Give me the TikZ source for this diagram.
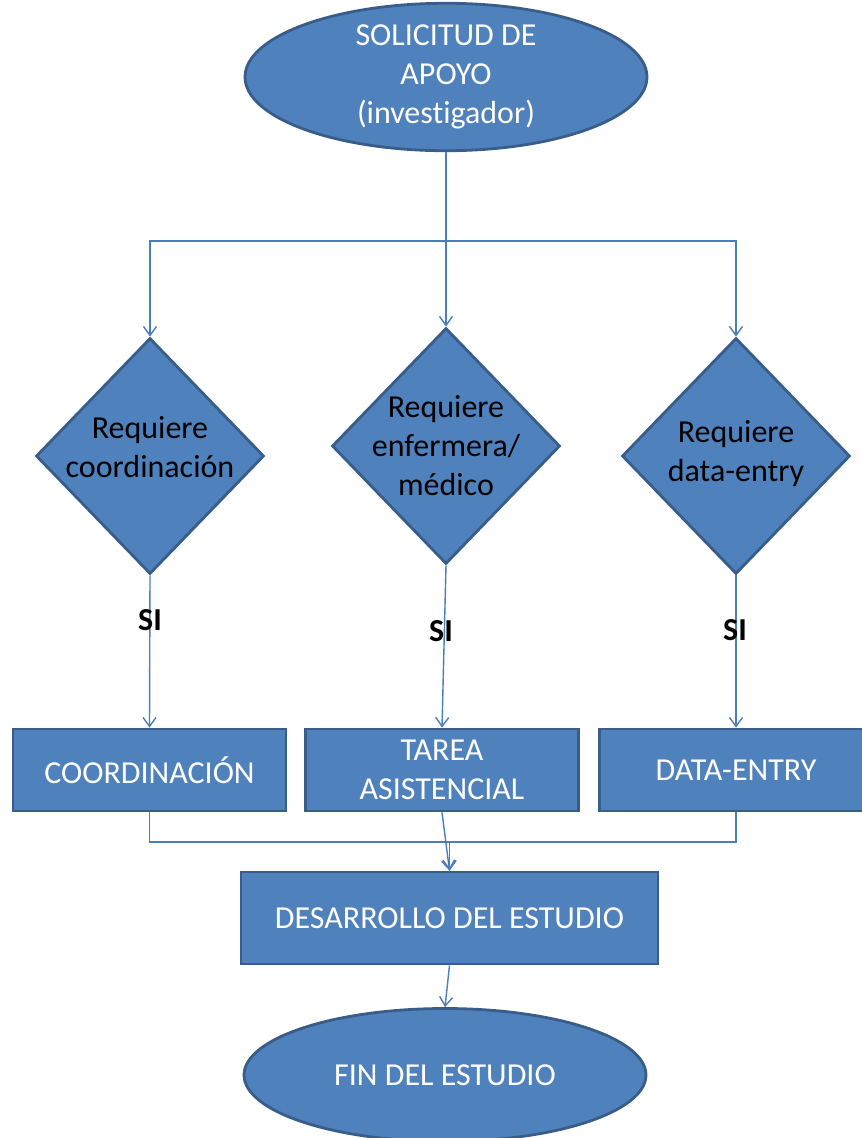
\documentclass[tikz,border=0pt]{standalone}
\usepackage{fontspec}
\setmainfont{Carlito}[RawFeature={-liga;-clig;-calt;-dlig}]
\usepackage{tikz}
\usepackage{xcolor}
\usetikzlibrary{calc,shapes.geometric,arrows.meta}

\definecolor{fillblue}{HTML}{4F81BD}
\definecolor{edgeblue}{HTML}{385D8A}
\definecolor{lineblue}{HTML}{4A7EBB}

\begin{document}
\begin{tikzpicture}[x=1pt,y=-1pt]
        \tikzstyle{every node}=[font=\fontsize{32}{39}\selectfont, align=center, inner sep=0pt]
        \tikzstyle{oval}=[ellipse, draw=edgeblue, line width=2.8pt, fill=fillblue, text=white, minimum width=402pt, minimum height=133pt]
        \tikzstyle{decision}=[diamond, draw=edgeblue, line width=2.8pt, fill=fillblue, minimum width=228pt, minimum height=236pt]
        \tikzstyle{task}=[rectangle, draw=edgeblue, line width=2.8pt, fill=fillblue, text=white, minimum width=273pt, minimum height=82pt]
        \tikzstyle{dtext}=[text=black]
        \tikzstyle{si}=[text=black, font=\fontsize{32}{39}\selectfont\bfseries]
        \tikzstyle{conn}=[draw=lineblue, line width=1.4pt, -{Straight Barb[length=9pt,width=13pt,line width=1.4pt]}]

        \useasboundingbox (0,0) rectangle (862,1138);
        \clip (0,0) rectangle (862,1138);

            \node[oval] (REQ) at (446,77) {SOLICITUD DE\\APOYO\\(investigador)};

            \node[decision] (D2) at ($(REQ)+(0,369)$) {};
            \node[decision] (D1) at ($(D2)+(-296,10)$) {};
            \node[decision] (D3) at ($(D2)+(290,10)$) {};
            \node[dtext] (T1) at ($(D1)+(0,-9)$) {Requiere\\coordinación};
            \node[dtext] (T2) at ($(D2)+(0,0)$) {Requiere\\enfermera/\\médico};
            \node[dtext] (T3) at ($(D3)+(0,-2)$) {Requiere\\data-entry};

            \node[task] (B1) at (149.5,770) {COORDINACIÓN};
            \node[task] (B2) at (442,770) {TAREA\\ASISTENCIAL};
            \node[task] (B3) at (736,770) {DATA-ENTRY};

            \node[task, minimum width=417pt, minimum height=92pt] (DEV) at (449.5,918) {DESARROLLO DEL ESTUDIO};
            \node[oval] (FIN) at (445,1075) {FIN DEL ESTUDIO};

            \coordinate (SPLIT) at (446,241);
            \coordinate (JOIN) at (449.5,842);

            \draw[conn] (REQ.south) -- (D2.north);
            \draw[conn] (SPLIT) -| (D1.north);
            \draw[conn] (SPLIT) -| (D3.north);

            \draw[conn] (D1.south) -- (B1.north);
            \draw[conn] (D2.south) -- (B2.north);
            \draw[conn] (D3.south) -- (B3.north);

            \node[si] (S1) at (150,620) {SI};
            \node[si] (S2) at (441,631) {SI};
            \node[si] (S3) at (735,630) {SI};

            \draw[conn] (B1.south) |- (JOIN) -- (DEV.north);
            \draw[conn] (B3.south) |- (JOIN) -- (DEV.north);
            \draw[conn] (B2.south) -- (DEV.north);
            \draw[conn] (DEV.south) -- (FIN.north);

        \end{tikzpicture}
\end{document}
